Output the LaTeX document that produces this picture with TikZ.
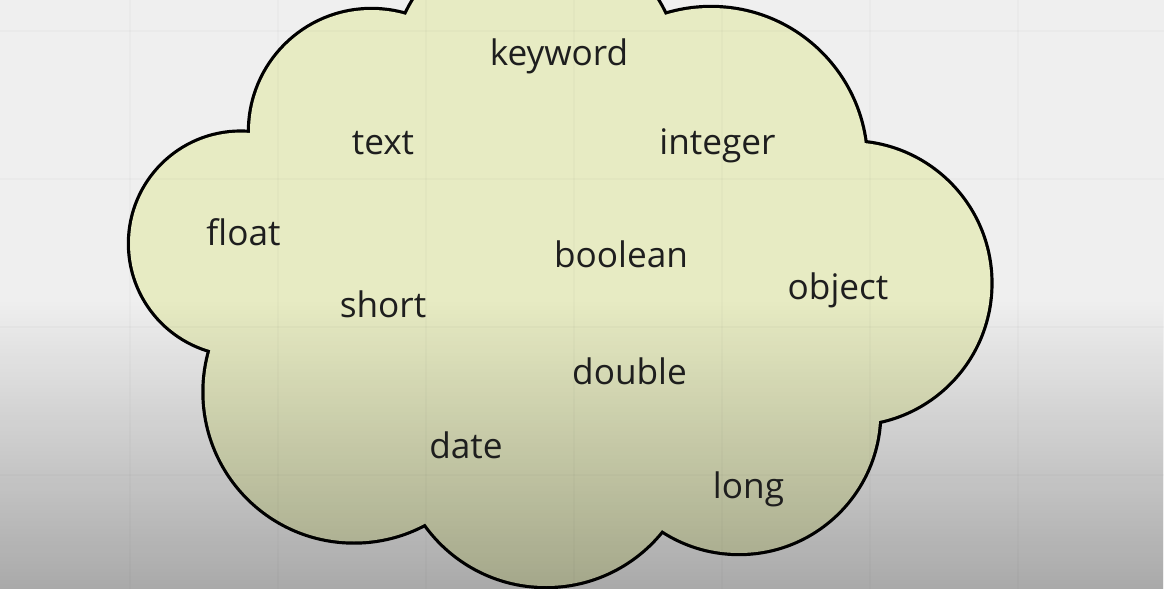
\documentclass[tikz,border=0pt]{standalone}
\usepackage{fontspec}
\setmainfont{Open Sans}
\usetikzlibrary{fadings}
\tikzfading[name=fadedown, top color=transparent!100, bottom color=transparent!0]
\definecolor{bg}{HTML}{EFEFEF}
\definecolor{cloudfill}{HTML}{E7EBC3}
\definecolor{ink}{HTML}{1E1E1E}
\begin{document}
\begin{tikzpicture}[x=0.5pt,y=-0.5pt,
  word/.style={font=\fontsize{17.6}{20}\selectfont, text=ink, inner sep=0pt, anchor=base},
  cloudline/.style={draw=black, line width=3.2pt},
  cloudbody/.style={fill=cloudfill},
  gridline/.style={draw=black, opacity=0.018, line width=0.8pt}]
\useasboundingbox (0,0) rectangle (1164,589);
\fill[bg] (0,0) rectangle (1164,589);
% cloud: outline of bumps (outer half visible)
\foreach \cx/\cy/\r in {535.5/75/71.35, 711/163/77.5, 849.5/283.2/70.45, 739/412.8/70.1,
                        546/438/74, 354/392/74.75, 240.9/243.5/55.45, 371.5/131.5/60.75}
  \path[cloudline] (\cx,\cy) circle[radius=\r pt];
% cloud body covering inner strokes
\foreach \cx/\cy/\r in {535.5/75/71.35, 711/163/77.5, 849.5/283.2/70.45, 739/412.8/70.1,
                        546/438/74, 354/392/74.75, 240.9/243.5/55.45, 371.5/131.5/60.75}
  \path[cloudbody] (\cx,\cy) circle[radius=\r pt];
\path[cloudbody] (406,15) -- (665,15) -- (864,143) -- (879,421) -- (662,530) -- (425,523) -- (210,350) -- (250,133) -- cycle;
% faint grid
\foreach \gx in {130,278,426,574,722,870,1018}
  \path[gridline] (\gx,0) -- (\gx,589);
\foreach \gy in {31,179,327,475}
  \path[gridline] (0,\gy) -- (1164,\gy);
% darkening toward the bottom
\fill[black, opacity=0.29, path fading=fadedown] (0,300) rectangle (1164,589);
% words
\node[word] (keyword) at (559,65) {keyword};
\node[word] (text) at (383,155) {text};
\node[word] (integer) at (717.5,155) {integer};
\node[word] (float) at (243.5,245) {float};
\node[word] (boolean) at (621,267) {boolean};
\node[word] (object) at (838,299) {object};
\node[word] (short) at (383,317) {short};
\node[word] (double) at (629.5,384) {double};
\node[word] (date) at (466,458) {date};
\node[word] (long) at (748.5,498) {long};
\end{tikzpicture}
\end{document}
